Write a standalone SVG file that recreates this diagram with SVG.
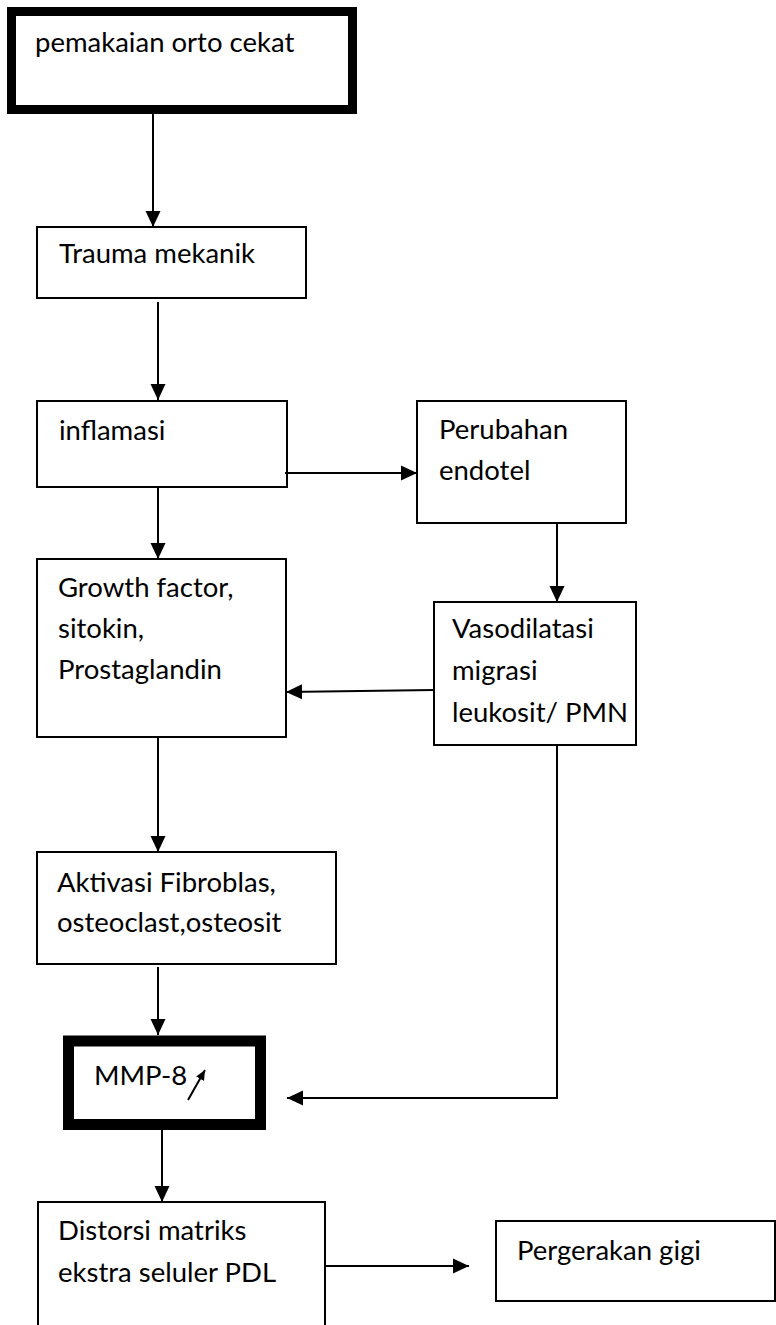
<svg xmlns="http://www.w3.org/2000/svg" width="776" height="1325" viewBox="0 0 776 1325">
<style>
.box{fill:#fff;stroke:#000;stroke-width:2}
.thick{fill:#fff;stroke:#000}
.t{font-family:Lato,"Liberation Sans",sans-serif;font-size:27.5px;fill:#000}
.c{fill:none;stroke:#000;stroke-width:2}
</style>
<defs>
<marker id="ah" markerUnits="userSpaceOnUse" markerWidth="16" markerHeight="16" viewBox="0 0 16 16" refX="16" refY="8" orient="auto">
<path d="M0,0.5 L16,8 L0,15.5 Z" fill="#000"/>
</marker>
<marker id="ahs" markerUnits="userSpaceOnUse" markerWidth="10" markerHeight="10" viewBox="0 0 10 10" refX="10" refY="5" orient="auto">
<path d="M0,0.5 L10,5 L0,9.5 Z" fill="#000"/>
</marker>
</defs>
<rect width="776" height="1325" fill="#fff"/>
<g id="n1">
<rect class="thick" x="11.5" y="11.5" width="341" height="98" stroke-width="9"/>
<text class="t" x="35" y="52">pemakaian orto cekat</text>
</g>
<g id="n2">
<rect class="box" x="37" y="227" width="269" height="71"/>
<text class="t" x="59" y="263">Trauma mekanik</text>
</g>
<g id="n3">
<rect class="box" x="37" y="401" width="250" height="86"/>
<text class="t" x="59" y="440">inflamasi</text>
</g>
<g id="n4">
<rect class="box" x="417" y="401" width="209" height="122"/>
<text class="t" x="439" y="439">Perubahan</text>
<text class="t" x="439" y="480">endotel</text>
</g>
<g id="n5">
<rect class="box" x="37" y="559" width="249" height="178"/>
<text class="t" x="58" y="597">Growth factor,</text>
<text class="t" x="58" y="638">sitokin,</text>
<text class="t" x="58" y="679">Prostaglandin</text>
</g>
<g id="n6">
<rect class="box" x="434" y="602" width="202" height="143"/>
<text class="t" x="452" y="638">Vasodilatasi</text>
<text class="t" x="452" y="680">migrasi</text>
<text class="t" x="452" y="722">leukosit/ PMN</text>
</g>
<g id="n7">
<rect class="box" x="37" y="852" width="299" height="112"/>
<text class="t" x="57" y="892">Aktivasi Fibroblas,</text>
<text class="t" x="57" y="932">osteoclast,osteosit</text>
</g>
<g id="n8">
<rect class="thick" x="68.5" y="1041" width="192" height="83.5" stroke-width="11"/>
<text class="t" x="94" y="1085">MMP-8</text>
<line class="c" x1="188" y1="1100" x2="205" y2="1070" marker-end="url(#ahs)"/>
</g>
<g id="n9">
<rect class="box" x="38" y="1202" width="287" height="140"/>
<text class="t" x="58" y="1240">Distorsi matriks</text>
<text class="t" x="58" y="1282">ekstra seluler PDL</text>
</g>
<g id="n10">
<rect class="box" x="496" y="1221" width="279" height="80"/>
<text class="t" x="517" y="1260">Pergerakan gigi</text>
</g>
<g id="connectors">
<line class="c" x1="153" y1="113" x2="153" y2="227" marker-end="url(#ah)"/>
<line class="c" x1="158" y1="302" x2="158" y2="400" marker-end="url(#ah)"/>
<line class="c" x1="285" y1="473" x2="417" y2="473" marker-end="url(#ah)"/>
<line class="c" x1="158" y1="487" x2="158" y2="559" marker-end="url(#ah)"/>
<line class="c" x1="557" y1="523" x2="557" y2="602" marker-end="url(#ah)"/>
<line class="c" x1="434" y1="690" x2="286" y2="692" marker-end="url(#ah)"/>
<line class="c" x1="158" y1="737" x2="158" y2="852" marker-end="url(#ah)"/>
<line class="c" x1="158" y1="967" x2="158" y2="1035" marker-end="url(#ah)"/>
<polyline class="c" points="557,745 557,1098 287,1098" marker-end="url(#ah)"/>
<line class="c" x1="162" y1="1130" x2="162" y2="1202" marker-end="url(#ah)"/>
<line class="c" x1="325" y1="1266" x2="469" y2="1266" marker-end="url(#ah)"/>
</g>
</svg>
